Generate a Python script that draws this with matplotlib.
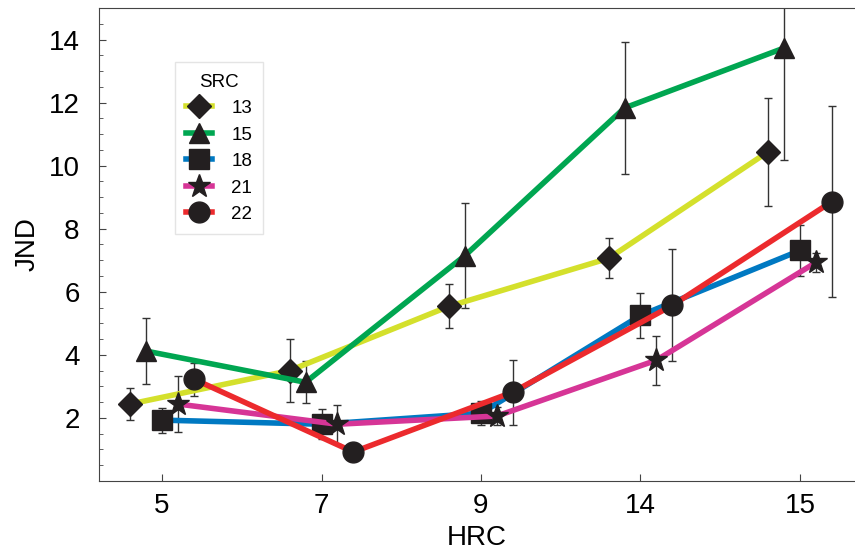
import matplotlib.pyplot as plt
import numpy as np

plt.rcParams['font.family'] = ['Liberation Sans', 'DejaVu Sans']

# Categorias HRC y series SRC
hrc = ['5', '7', '9', '14', '15']
src = ['13', '15', '18', '21', '22']

jnd_13 = [2.44, 3.50, 5.54, 7.06, 10.44]
jnd_15 = [4.12, 3.13, 7.15, 11.83, 13.73]
jnd_18 = [1.93, 1.80, 2.15, 5.25, 7.31]
jnd_21 = [2.44, 1.80, 2.06, 3.83, 6.93]
jnd_22 = [3.23, 0.92, 2.82, 5.57, 8.86]

err_13 = [0.52, 1.01, 0.70, 0.63, 1.71]
err_15 = [1.05, 0.66, 1.66, 2.10, 3.55]
err_18 = [0.40, 0.47, 0.38, 0.70, 0.82]
err_21 = [0.90, 0.62, 0.30, 0.78, 0.30]
err_22 = [0.52, 0.20, 1.03, 1.78, 3.03]

colores = ['#d4e02c', '#00a651', '#0079c2', '#d63596', '#ec2a2d']
marcadores = ['D', '^', 's', '*', 'o']
tamanos = [12, 15, 15, 17, 15]
desplaz = [-0.2, -0.1, 0.0, 0.1, 0.2]

datos = [jnd_13, jnd_15, jnd_18, jnd_21, jnd_22]
errores = [err_13, err_15, err_18, err_21, err_22]

fig = plt.figure(figsize=(8.55, 5.54), dpi=100)
ax = fig.add_axes([0.1158, 0.1318, 0.8842, 0.8538])

x = np.arange(len(hrc))
for i in range(len(src)):
    xs = x + desplaz[i]
    ax.errorbar(xs, datos[i], yerr=errores[i], fmt='none', ecolor='#333333',
                elinewidth=1, capsize=3, capthick=1, zorder=2)
    ax.plot(xs, datos[i], color=colores[i], linewidth=4, marker=marcadores[i],
            markersize=tamanos[i], markerfacecolor='#231f20', markeredgecolor='#231f20',
            label=src[i], zorder=3)

ax.set_xlim(-0.395, 4.345)
ax.set_ylim(0, 15)
ax.set_xticks(x)
ax.set_xticklabels(hrc)
ax.set_yticks([2, 4, 6, 8, 10, 12, 14])
ax.set_yticks(np.arange(0.5, 15, 0.5), minor=True)
ax.tick_params(axis='both', direction='in', labelsize=20, length=5, color='#444444')
ax.tick_params(axis='y', which='minor', direction='in', length=3, color='#444444')
ax.tick_params(axis='x', pad=9)
ax.tick_params(axis='y', pad=14)
ax.spines['right'].set_visible(False)
for s in ['left', 'bottom', 'top']:
    ax.spines[s].set_color('#444444')

ax.set_xlabel('HRC', fontsize=20, labelpad=4)
ax.set_ylabel('JND', fontsize=20, labelpad=6)

leg = ax.legend(title='SRC', loc='upper left', bbox_to_anchor=(0.088, 0.905),
                fontsize=13.5, title_fontsize=13.5, handlelength=1.4, fancybox=False,
                edgecolor='#e4e4e4', framealpha=1, labelspacing=0.5,
                borderpad=0.6, handletextpad=1.0)

plt.savefig('out.png', dpi=100)
